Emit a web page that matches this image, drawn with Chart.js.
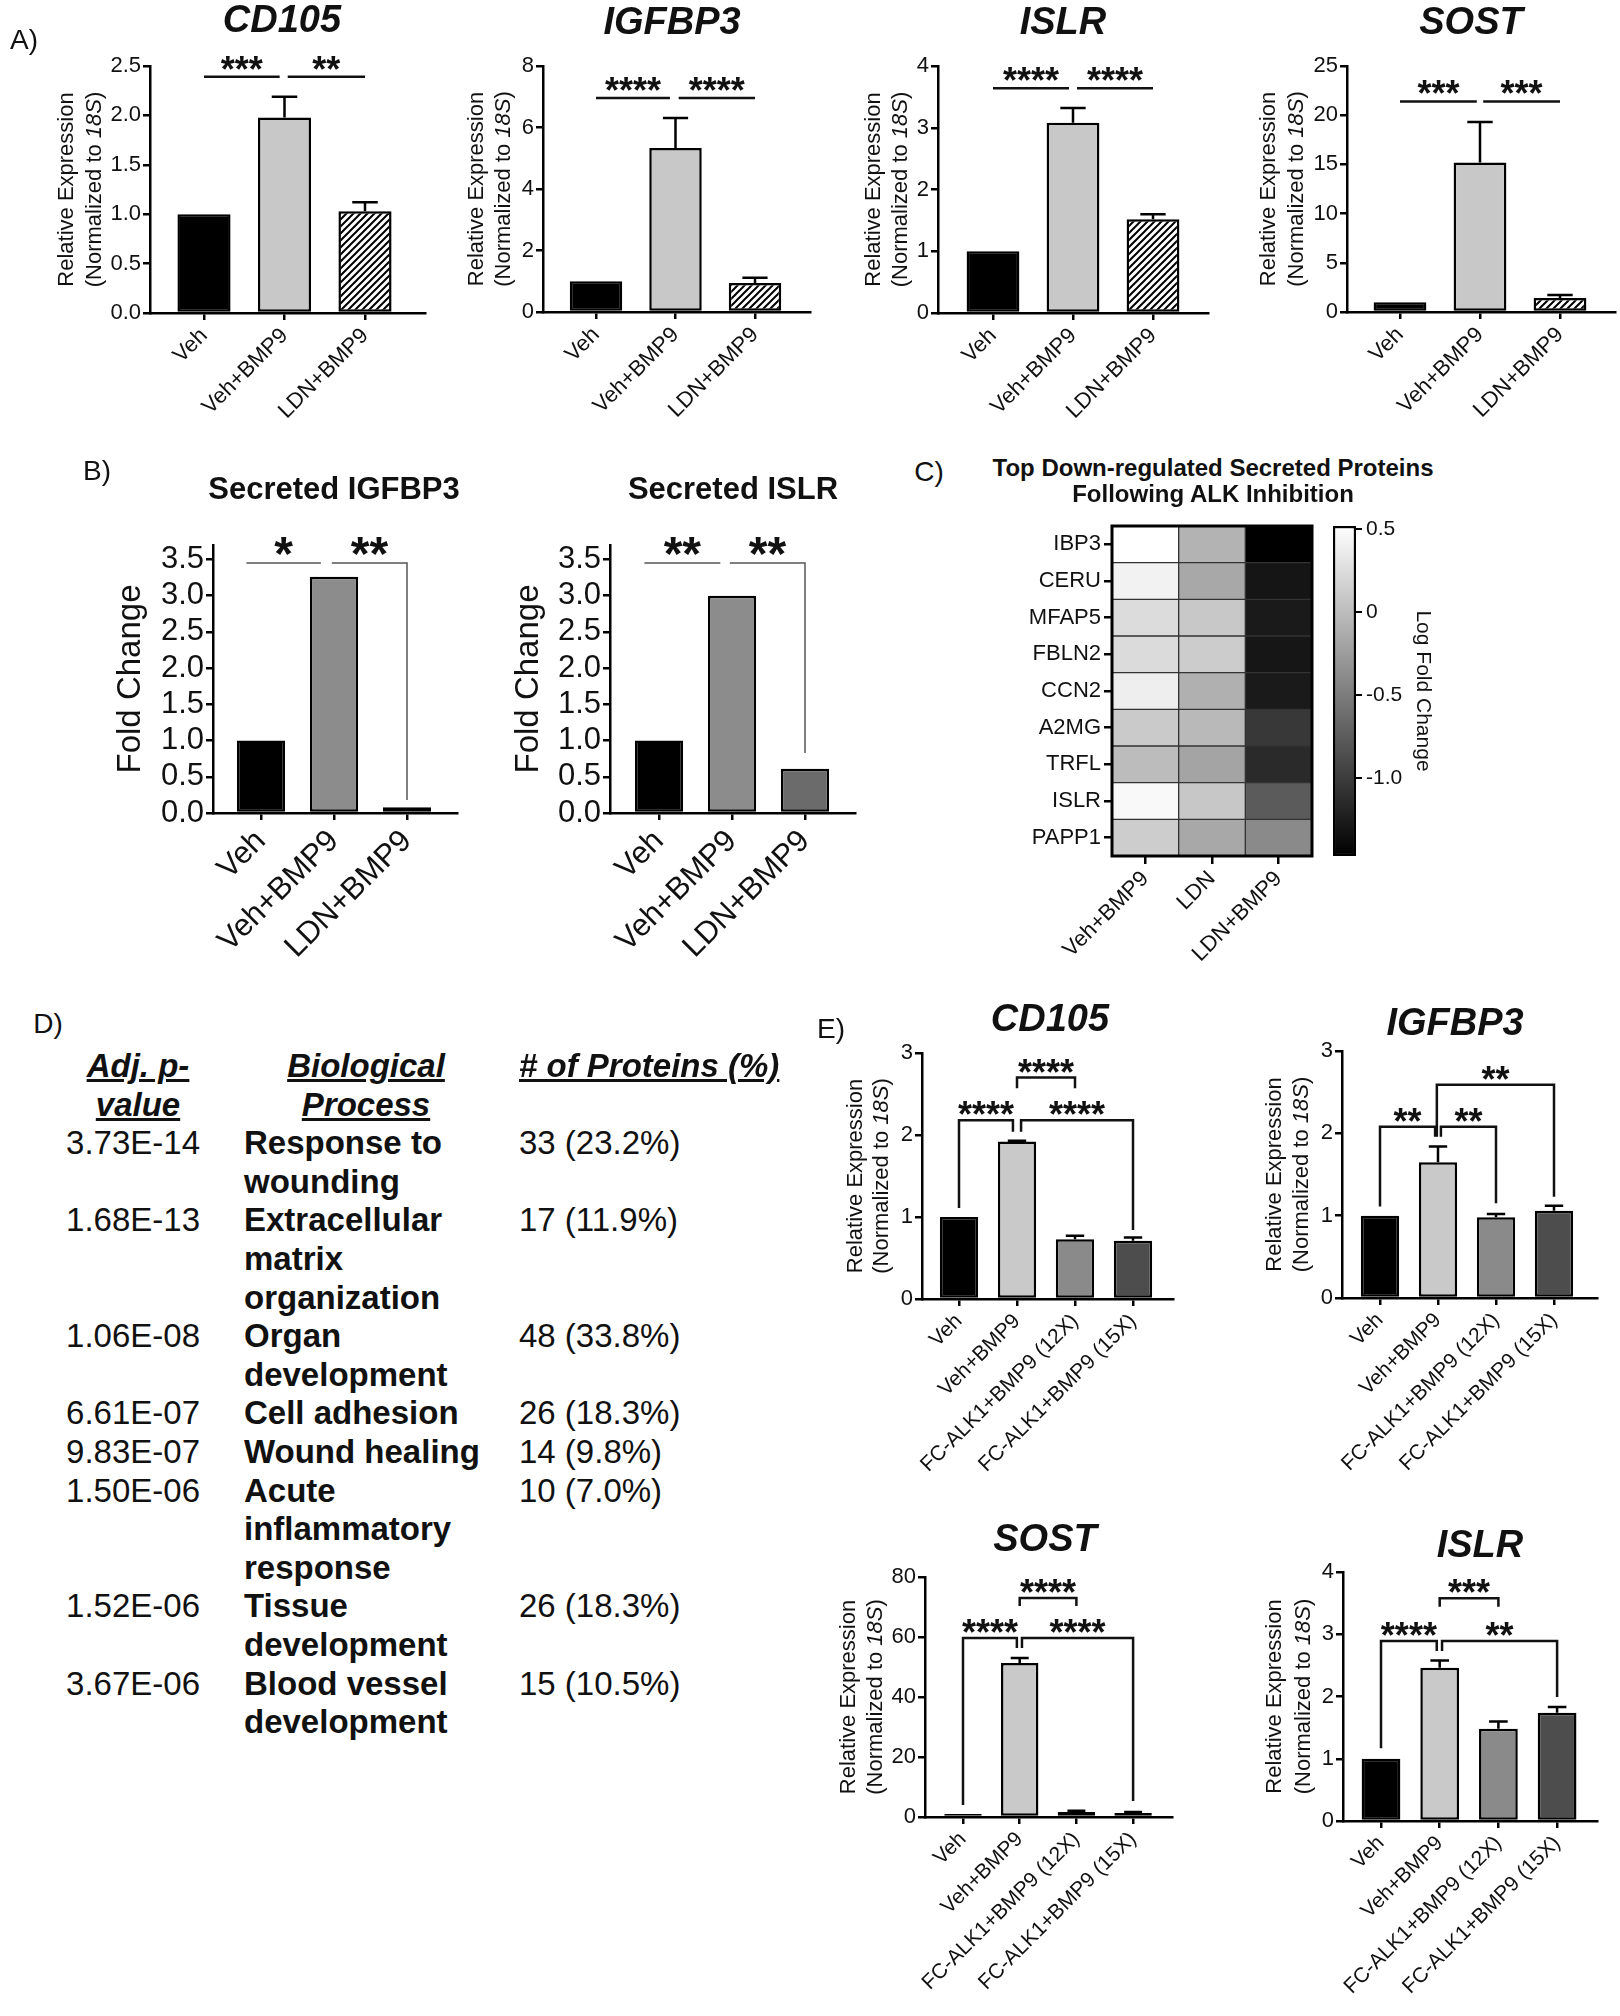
<!DOCTYPE html>
<html>
<head>
<meta charset="utf-8">
<script src="https://cdn.jsdelivr.net/npm/chart.js@4.4.1/dist/chart.umd.min.js"></script>
<style>
  body { margin:0; width:1620px; height:2016px; background:#fff; position:relative; overflow:hidden;
         font-family:"Liberation Sans", Arial, sans-serif; color:#111; }
  canvas { position:absolute; }
  .t { position:absolute; white-space:nowrap; line-height:1; transform:translate(-50%,-50%); }
  .gene { font-size:38px; font-weight:bold; font-style:italic; }
  .sec { font-size:31px; font-weight:bold; }
  .heat { font-size:24px; font-weight:bold; }
  .lab { font-size:28px; }
  .tbl { position:absolute; font-size:33px; line-height:38.6px; white-space:nowrap; }
  .hd { font-weight:bold; font-style:italic; text-decoration:underline; }
</style>
</head>
<body>
<script>
// ---- data ----
const groupsA = ['Veh', 'Veh+BMP9', 'LDN+BMP9'];
const groupsE = ['Veh', 'Veh+BMP9', 'FC-ALK1+BMP9 (12X)', 'FC-ALK1+BMP9 (15X)'];

// panel A (mean and upper error)
const cd105A = [1.0, 1.98, 1.03];
const cd105AErr = [0, 0.21, 0.09];
const igfbp3A = [1.0, 5.33, 0.94];
const igfbp3AErr = [0, 0.98, 0.17];
const islrA = [1.0, 3.08, 1.52];
const islrAErr = [0, 0.24, 0.08];
const sostA = [1.0, 15.2, 1.42];
const sostAErr = [0, 4.1, 0.31];

// panel B (fold change)
const igfbp3Sec = [1.0, 3.26, 0.08];
const islrSec = [1.0, 3.0, 0.61];

// panel E
const cd105E = [1.0, 1.92, 0.73, 0.71];
const cd105EErr = [0, 0.01, 0.04, 0.04];
const igfbp3E = [1.0, 1.65, 0.98, 1.06];
const igfbp3EErr = [0, 0.19, 0.04, 0.06];
const sostE = [1.0, 51.3, 1.7, 1.3];
const sostEErr = [0, 1.7, 0.4, 0.4];
const islrE = [1.0, 2.46, 1.48, 1.74];
const islrEErr = [0, 0.12, 0.12, 0.09];

// y ticks
const ticksCd105A = [0, 0.5, 1, 1.5, 2, 2.5];
const ticksIgfbp3A = [0, 2, 4, 6, 8];
const ticksIslrA = [0, 1, 2, 3, 4];
const ticksSostA = [0, 5, 10, 15, 20, 25];
const ticksSec = [0, 0.5, 1, 1.5, 2, 2.5, 3, 3.5];
const ticksE3 = [0, 1, 2, 3];
const ticksSostE = [0, 20, 40, 60, 80];
const ticksIslrE = [0, 1, 2, 3, 4];

// significance brackets (x in group index, y in axis units)
const sigA1 = [{x1:0, x2:0.94, y:2.39, text:'***'}, {x1:1.04, x2:2, y:2.39, text:'**'}];
const sigA2 = [{x1:0, x2:0.93, y:6.96, text:'****'}, {x1:1.04, x2:2, y:6.96, text:'****'}];
const sigA3 = [{x1:0, x2:0.95, y:3.64, text:'****'}, {x1:1.05, x2:2, y:3.64, text:'****'}];
const sigA4 = [{x1:0, x2:0.96, y:21.4, text:'***'}, {x1:1.04, x2:2, y:21.4, text:'***'}];
const sigB1 = [{x1:-0.2, x2:0.82, y:3.45, text:'*'}, {x1:0.97, x2:2, y:3.45, y2:0.18, text:'**'}];
const sigB2 = [{x1:-0.2, x2:0.84, y:3.45, text:'**'}, {x1:0.97, x2:2, y:3.45, y2:0.83, text:'**'}];
const sigE1 = [{x1:1, x2:2, y:2.70, y1:2.57, y2:2.57, text:'****'},
               {x1:0, x2:0.93, y:2.18, y1:1.11, y2:2.04, text:'****'},
               {x1:1.07, x2:3, y:2.18, y1:2.04, y2:0.84, text:'****'}];
const sigE2 = [{x1:0.98, x2:3, y:2.59, y1:1.96, y2:1.23, text:'**'},
               {x1:0, x2:0.95, y:2.08, y1:1.11, y2:1.96, text:'**'},
               {x1:1.05, x2:2, y:2.08, y1:1.96, y2:1.15, text:'**'}];
const sigE3 = [{x1:1, x2:2, y:73, y1:70.3, y2:70.3, text:'****'},
               {x1:0, x2:0.95, y:59.7, y1:4, y2:56.3, text:'****'},
               {x1:1.04, x2:3, y:59.7, y1:56.3, y2:5.3, text:'****'}];
const sigE4 = [{x1:1, x2:2, y:3.58, y1:3.44, y2:3.44, text:'***'},
               {x1:0, x2:0.95, y:2.89, y1:1.17, y2:2.73, text:'****'},
               {x1:1.04, x2:3, y:2.89, y1:2.73, y2:1.99, text:'**'}];

// panel C heatmap (log fold change)
const heatRows = ['IBP3', 'CERU', 'MFAP5', 'FBLN2', 'CCN2', 'A2MG', 'TRFL', 'ISLR', 'PAPP1'];
const heatCols = ['Veh+BMP9', 'LDN', 'LDN+BMP9'];
const heatVehBmp9 = [0.52, 0.42, 0.25, 0.24, 0.39, 0.11, 0.0, 0.47, 0.13];
const heatLdn = [-0.07, -0.16, 0.09, 0.12, -0.10, -0.03, -0.19, 0.08, -0.16];
const heatLdnBmp9 = [-1.47, -1.31, -1.27, -1.30, -1.27, -1.03, -1.14, -0.76, -0.39];
const cbMin = -1.47, cbMax = 0.52;
const cbTicks = [0.5, 0, -0.5, -1.0];

// panel D table
const dPval = ['3.73E-14', '1.68E-13', '1.06E-08', '6.61E-07', '9.83E-07', '1.50E-06', '1.52E-06', '3.67E-06'];
const dProcess = [['Response to', 'wounding'], ['Extracellular', 'matrix', 'organization'], ['Organ', 'development'],
                  ['Cell adhesion'], ['Wound healing'], ['Acute', 'inflammatory', 'response'],
                  ['Tissue', 'development'], ['Blood vessel', 'development']];
const dCount = ['33 (23.2%)', '17 (11.9%)', '48 (33.8%)', '26 (18.3%)', '14 (9.8%)', '10 (7.0%)', '26 (18.3%)', '15 (10.5%)'];

// ---- drawing ----
const FONT = '"Liberation Sans", Arial, sans-serif';
Chart.defaults.font.family = FONT;
Chart.defaults.color = '#111';

function hatchPattern() {
  const c = document.createElement('canvas');
  c.width = 7; c.height = 7;
  const g = c.getContext('2d');
  g.fillStyle = '#fff'; g.fillRect(0, 0, 7, 7);
  g.strokeStyle = '#000'; g.lineWidth = 2;
  g.beginPath();
  g.moveTo(-1, 8); g.lineTo(8, -1);
  g.moveTo(-2, 2); g.lineTo(2, -2);
  g.moveTo(5, 9); g.lineTo(9, 5);
  g.stroke();
  return g.createPattern(c, 'repeat');
}

function rich(ctx, segs, size) {
  const parts = segs.map(s => {
    const f = (s.i ? 'italic ' : '') + size + 'px ' + FONT;
    ctx.font = f;
    return { t: s.t, f: f, w: ctx.measureText(s.t).width };
  });
  let x = -parts.reduce((a, p) => a + p.w, 0) / 2;
  parts.forEach(p => { ctx.font = p.f; ctx.fillText(p.t, x, 0); x += p.w; });
}

function decor(spec) {
  return {
    id: 'decor',
    afterDraw(chart) {
      const ctx = chart.ctx, xs = chart.scales.x, ys = chart.scales.y, area = chart.chartArea;
      const meta = chart.getDatasetMeta(0);
      ctx.save();
      ctx.strokeStyle = '#000';
      ctx.lineWidth = 2.5;
      (spec.errs || []).forEach((e, i) => {
        if (!e) return;
        const bar = meta.data[i];
        const y0 = ys.getPixelForValue(spec.values[i]);
        const y1 = ys.getPixelForValue(spec.values[i] + e);
        const hw = bar.width * 0.24;
        ctx.beginPath();
        ctx.moveTo(bar.x, y0); ctx.lineTo(bar.x, y1);
        ctx.moveTo(bar.x - hw, y1); ctx.lineTo(bar.x + hw, y1);
        ctx.stroke();
      });
      ctx.lineWidth = spec.sigWidth;
      ctx.strokeStyle = spec.sigColor;
      spec.sig.forEach(b => {
        const x1 = xs.getPixelForValue(b.x1), x2 = xs.getPixelForValue(b.x2), y = ys.getPixelForValue(b.y);
        ctx.beginPath();
        if (b.y1 != null) { ctx.moveTo(x1, ys.getPixelForValue(b.y1)); ctx.lineTo(x1, y); }
        else ctx.moveTo(x1, y);
        ctx.lineTo(x2, y);
        if (b.y2 != null) ctx.lineTo(x2, ys.getPixelForValue(b.y2));
        ctx.stroke();
        ctx.fillStyle = '#111';
        ctx.font = 'bold ' + spec.starFont + 'px ' + FONT;
        ctx.textAlign = 'center';
        ctx.textBaseline = 'alphabetic';
        ctx.fillText(b.text, (x1 + x2) / 2, y + spec.starDy);
      });
      // y axis title
      ctx.fillStyle = '#111';
      ctx.textAlign = 'left';
      ctx.textBaseline = 'middle';
      const mid = (area.top + area.bottom) / 2;
      spec.ytitle.forEach((line, k) => {
        ctx.save();
        ctx.translate(area.left + spec.ytitleX[k], mid);
        ctx.rotate(-Math.PI / 2);
        rich(ctx, line, spec.ytitleFont);
        ctx.restore();
      });
      ctx.restore();
    }
  };
}

function makeBar(spec) {
  const cv = document.createElement('canvas');
  const left = spec.axisX - 150;
  const top = Math.max(0, spec.yTop - 70);
  const w = spec.xEnd + 15 - left;
  const h = spec.yZero + spec.bottom - top;
  cv.width = w; cv.height = h;
  cv.style.left = left + 'px'; cv.style.top = top + 'px';
  document.body.appendChild(cv);
  const axisLine = { display: true, color: '#000', width: 2.5 };
  const tickGrid = { display: true, drawOnChartArea: false, drawTicks: true, tickLength: 7, color: '#000', lineWidth: 2.5, offset: false };
  new Chart(cv, {
    type: 'bar',
    data: {
      datasets: [{
        data: spec.values.map((v, i) => ({ x: i, y: v })),
        backgroundColor: spec.colors,
        borderColor: '#000', borderWidth: 2.5, borderSkipped: false,
        barPercentage: 0.66, categoryPercentage: 1
      }]
    },
    options: {
      responsive: false, animation: false,
      layout: { padding: { top: spec.yTop - top, right: left + w - spec.xEnd, left: 0, bottom: 0 } },
      plugins: { legend: { display: false }, tooltip: { enabled: false } },
      scales: {
        x: {
          type: 'linear', offset: false,
          min: (spec.axisX - spec.t0) / spec.step, max: (spec.xEnd - spec.t0) / spec.step,
          afterBuildTicks: s => { s.ticks = spec.labels.map((_, i) => ({ value: i })); },
          afterFit: s => { s.height = top + h - spec.yZero; },
          ticks: { autoSkip: false, minRotation: 45, maxRotation: 45, padding: 3,
                   font: { size: spec.xFont }, color: '#111', callback: v => spec.labels[v] },
          grid: tickGrid, border: axisLine
        },
        y: {
          min: 0, max: spec.yMax,
          afterBuildTicks: s => { s.ticks = spec.yTicks.map(v => ({ value: v })); },
          afterFit: s => { s.width = spec.axisX - left; },
          ticks: { autoSkip: false, padding: 2, font: { size: spec.yFont }, color: '#111',
                   callback: v => v.toFixed(spec.fmt) },
          grid: tickGrid, border: axisLine
        }
      }
    },
    plugins: [decor(spec)]
  });
}

const hatch = hatchPattern();
const colorsA = ['#000', '#c8c8c8', hatch];
const colorsE = ['#000', '#c9c9c9', '#8a8a8a', '#4d4d4d'];
const expTitle = [[{ t: 'Relative Expression' }], [{ t: '(Normalized to ' }, { t: '18S', i: true }, { t: ')' }]];
const styleA = { labels: groupsA, colors: colorsA, bottom: 135, xFont: 22, yFont: 22, starFont: 36, starDy: 5,
                 sigWidth: 2.5, sigColor: '#111', ytitle: expTitle, ytitleFont: 22 };
const styleB = { labels: groupsA, bottom: 180, xFont: 31, yFont: 31, starFont: 48, starDy: 7, fmt: 1,
                 sigWidth: 1.5, sigColor: '#555', ytitle: [[{ t: 'Fold Change' }]], ytitleFont: 33,
                 yMax: 3.7, yTicks: ticksSec, yTop: 545, yZero: 813, step: 73 };
const styleE = { labels: groupsE, colors: colorsE, bottom: 205, xFont: 21, yFont: 22, starFont: 36, starDy: 7, fmt: 0,
                 sigWidth: 2.5, sigColor: '#111', ytitle: expTitle, ytitleFont: 22 };

const specs = [
  Object.assign({}, styleA, { values: cd105A, errs: cd105AErr, yTicks: ticksCd105A, yMax: 2.5, fmt: 1, sig: sigA1,
    axisX: 150, yTop: 66, yZero: 313, xEnd: 425, t0: 204, step: 80.5, ytitleX: [-83, -55] }),
  Object.assign({}, styleA, { values: igfbp3A, errs: igfbp3AErr, yTicks: ticksIgfbp3A, yMax: 8, fmt: 0, sig: sigA2,
    axisX: 543, yTop: 66, yZero: 312, xEnd: 810, t0: 596, step: 79.5, ytitleX: [-66, -39] }),
  Object.assign({}, styleA, { values: islrA, errs: islrAErr, yTicks: ticksIslrA, yMax: 4, fmt: 0, sig: sigA3,
    axisX: 938, yTop: 66, yZero: 313, xEnd: 1208, t0: 993, step: 80, ytitleX: [-64, -37] }),
  Object.assign({}, styleA, { values: sostA, errs: sostAErr, yTicks: ticksSostA, yMax: 25, fmt: 0, sig: sigA4,
    axisX: 1347, yTop: 66, yZero: 312, xEnd: 1615, t0: 1400, step: 80, ytitleX: [-78, -50] }),
  Object.assign({}, styleB, { values: igfbp3Sec, colors: ['#000', '#8c8c8c', '#7a7a7a'], sig: sigB1,
    axisX: 213, xEnd: 457, t0: 261, ytitleX: [-82] }),
  Object.assign({}, styleB, { values: islrSec, colors: ['#000', '#8c8c8c', '#6b6b6b'], sig: sigB2,
    axisX: 610, xEnd: 855, t0: 659, ytitleX: [-81] }),
  Object.assign({}, styleE, { values: cd105E, errs: cd105EErr, yTicks: ticksE3, yMax: 3, sig: sigE1,
    axisX: 922, yTop: 1053, yZero: 1299, xEnd: 1173, t0: 959, step: 58, ytitleX: [-66, -40] }),
  Object.assign({}, styleE, { values: igfbp3E, errs: igfbp3EErr, yTicks: ticksE3, yMax: 3, sig: sigE2,
    axisX: 1342, yTop: 1051, yZero: 1298, xEnd: 1597, t0: 1380, step: 58, ytitleX: [-67, -40] }),
  Object.assign({}, styleE, { values: sostE, errs: sostEErr, yTicks: ticksSostE, yMax: 80, sig: sigE3,
    axisX: 925, yTop: 1577, yZero: 1817, xEnd: 1172, t0: 963, step: 56.7, ytitleX: [-76, -49] }),
  Object.assign({}, styleE, { values: islrE, errs: islrEErr, yTicks: ticksIslrE, yMax: 4, sig: sigE4,
    axisX: 1343, yTop: 1572, yZero: 1821, xEnd: 1597, t0: 1381, step: 58.7, ytitleX: [-68, -39] })
];
specs.forEach(makeBar);

// ---- heatmap ----
function heatGray(v) {
  const t = Math.max(0, Math.min(1, (v - cbMin) / (cbMax - cbMin)));
  const g = Math.round(255 * t);
  return 'rgb(' + g + ',' + g + ',' + g + ')';
}
const heatColumns = [heatVehBmp9, heatLdn, heatLdnBmp9];
(function () {
  const cv = document.createElement('canvas');
  cv.width = 320; cv.height = 480;
  cv.style.left = '1000px'; cv.style.top = '500px';
  document.body.appendChild(cv);
  const tickGrid = { display: true, drawOnChartArea: false, drawTicks: true, tickLength: 8, color: '#000', lineWidth: 2.5, offset: false };
  new Chart(cv, {
    type: 'bar',
    data: {
      labels: heatCols,
      datasets: heatRows.map((r, ri) => ({
        data: heatCols.map(() => [ri - 0.5, ri + 0.5]),
        backgroundColor: heatColumns.map(col => heatGray(col[ri])),
        borderColor: '#333', borderWidth: 1, borderSkipped: false,
        grouped: false, barPercentage: 1, categoryPercentage: 1
      }))
    },
    options: {
      responsive: false, animation: false,
      layout: { padding: { top: 26, right: 8, left: 0, bottom: 0 } },
      plugins: { legend: { display: false }, tooltip: { enabled: false } },
      scales: {
        x: {
          type: 'category', offset: true,
          afterFit: s => { s.height = 480 - 356; },
          ticks: { autoSkip: false, minRotation: 45, maxRotation: 45, padding: 2, font: { size: 22 }, color: '#111' },
          grid: tickGrid, border: { display: false }
        },
        y: {
          type: 'linear', reverse: true, min: -0.5, max: 8.5,
          afterBuildTicks: s => { s.ticks = heatRows.map((_, i) => ({ value: i })); },
          afterFit: s => { s.width = 112; },
          ticks: { autoSkip: false, padding: 3, font: { size: 22 }, color: '#111', callback: v => heatRows[v] },
          grid: tickGrid, border: { display: false }
        }
      }
    },
    plugins: [{
      id: 'frame',
      afterDraw(chart) {
        const a = chart.chartArea, ctx = chart.ctx;
        ctx.save(); ctx.strokeStyle = '#000'; ctx.lineWidth = 3;
        ctx.strokeRect(a.left, a.top, a.right - a.left, a.bottom - a.top);
        ctx.restore();
      }
    }]
  });
})();

// ---- colour bar ----
(function () {
  const cv = document.createElement('canvas');
  cv.width = 137; cv.height = 380;
  cv.style.left = '1300px'; cv.style.top = '500px';
  document.body.appendChild(cv);
  new Chart(cv, {
    type: 'bar',
    data: {
      labels: ['scale'],
      datasets: [{
        data: [[cbMin, cbMax]],
        backgroundColor: ctx => {
          const a = ctx.chart.chartArea;
          if (!a) return '#888';
          const g = ctx.chart.ctx.createLinearGradient(0, a.bottom, 0, a.top);
          g.addColorStop(0, '#000'); g.addColorStop(1, '#fff');
          return g;
        },
        borderColor: '#000', borderWidth: 2.5, borderSkipped: false,
        barPercentage: 1, categoryPercentage: 1
      }]
    },
    options: {
      responsive: false, animation: false,
      layout: { padding: { top: 26, right: 0, left: 33, bottom: 24 } },
      plugins: { legend: { display: false }, tooltip: { enabled: false } },
      scales: {
        x: { display: false },
        y: {
          position: 'right', min: cbMin, max: cbMax,
          afterBuildTicks: s => { s.ticks = cbTicks.map(v => ({ value: v })); },
          afterFit: s => { s.width = 81; },
          ticks: { autoSkip: false, padding: 4, font: { size: 21 }, color: '#111', callback: v => (v === 0 ? '0' : v.toFixed(1)) },
          grid: { display: true, drawOnChartArea: false, drawTicks: true, tickLength: 6, color: '#000', lineWidth: 2 },
          border: { display: false },
          title: { display: true, text: 'Log Fold Change', font: { size: 21 }, color: '#111', padding: { top: 2, bottom: 0 } }
        }
      }
    }
  });
})();

// ---- text ----
function addText(txt, x, y, cls) {
  const d = document.createElement('div');
  d.className = 't ' + cls;
  d.textContent = txt;
  d.style.left = x + 'px'; d.style.top = y + 'px';
  document.body.appendChild(d);
}
addText('A)', 24, 40, 'lab');
addText('B)', 97, 471, 'lab');
addText('C)', 929, 472, 'lab');
addText('D)', 48, 1024, 'lab');
addText('E)', 831, 1029, 'lab');
addText('CD105', 282, 19, 'gene');
addText('IGFBP3', 672, 21, 'gene');
addText('ISLR', 1063, 21, 'gene');
addText('SOST', 1471, 21, 'gene');
addText('Secreted IGFBP3', 334, 488, 'sec');
addText('Secreted ISLR', 733, 488, 'sec');
addText('Top Down-regulated Secreted Proteins', 1213, 468, 'heat');
addText('Following ALK Inhibition', 1213, 494, 'heat');
addText('CD105', 1050, 1018, 'gene');
addText('IGFBP3', 1455, 1022, 'gene');
addText('SOST', 1045, 1538, 'gene');
addText('ISLR', 1480, 1544, 'gene');

// ---- table D ----
(function () {
  const lh = 38.6, top0 = 1047;
  function cell(html, left, line, extra) {
    const d = document.createElement('div');
    d.className = 'tbl';
    d.innerHTML = html;
    d.style.left = left + 'px';
    d.style.top = (top0 + line * lh) + 'px';
    if (extra) Object.assign(d.style, extra);
    document.body.appendChild(d);
  }
  cell('<span class="hd">Adj. p-</span><br><span class="hd">value</span>', 38, 0, { width: '200px', textAlign: 'center' });
  cell('<span class="hd">Biological</span><br><span class="hd">Process</span>', 266, 0, { width: '200px', textAlign: 'center' });
  cell('<span class="hd"># of Proteins (%)</span>', 519, 0);
  let line = 2;
  dPval.forEach((p, i) => {
    cell(p, 0, line, { width: '200px', textAlign: 'right' });
    cell(dProcess[i].join('<br>'), 244, line, { fontWeight: 'bold' });
    cell(dCount[i], 519, line);
    line += dProcess[i].length;
  });
})();
</script>
</body>
</html>
